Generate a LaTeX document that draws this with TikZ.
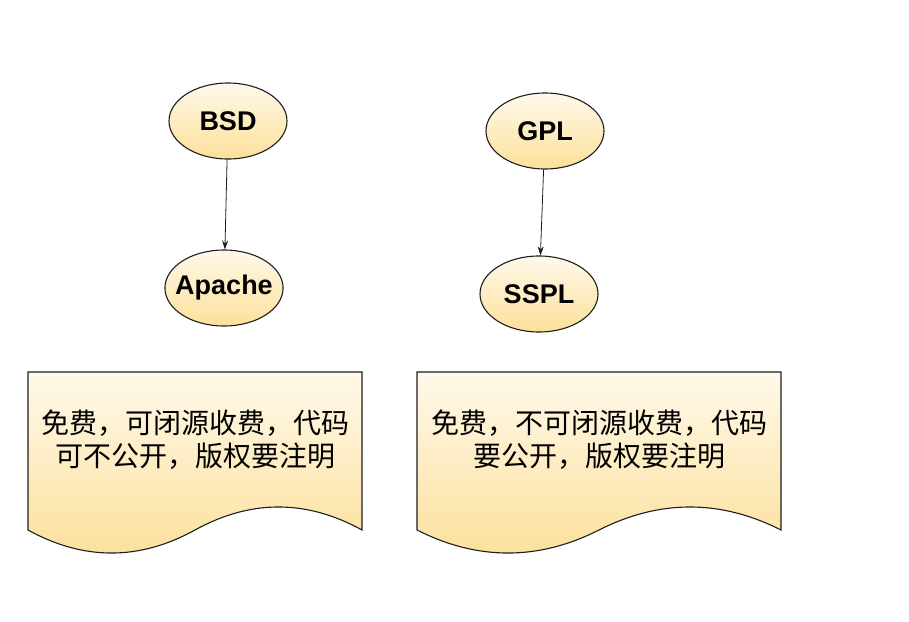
\documentclass[tikz,border=0pt]{standalone}
\usepackage{fontspec}
\setmainfont{Liberation Sans}
\newfontfamily\cjk{Noto Sans CJK SC}
\usetikzlibrary{shapes.geometric,arrows.meta}
\definecolor{licTop}{HTML}{FFF9EA}
\definecolor{licBot}{HTML}{FCE09A}
\definecolor{licLine}{HTML}{1E1E1E}
% document outline with a wavy bottom, #1 = left edge, #2 = width
\newcommand{\licDoc}[2]{%
  \begin{scope}[shift={(#1,372)}, x=#2pt]
    \path[draw=licLine, line width=1.1pt, top color=licTop, bottom color=licBot]
      (0,0) -- (1,0) -- (1,158)
      .. controls (0.8333,127.3) and (0.6667,127.3) .. (0.5,158)
      .. controls (0.3333,188.7) and (0.1667,188.7) .. (0,158) -- cycle;
  \end{scope}}

\begin{document}
\begin{tikzpicture}[x=1pt,y=-1pt,
  lic/.style={ellipse, draw=licLine, line width=1.1pt, top color=licTop, bottom color=licBot,
    minimum width=118pt, minimum height=76pt, inner sep=-7pt,
    font=\bfseries\fontsize{27}{31}\selectfont},
  note/.style={align=center, inner sep=0pt, font=\cjk\fontsize{28}{33}\selectfont},
  flow/.style={draw=licLine, line width=0.8pt, -{Stealth[length=9pt,width=6pt]}}]
\useasboundingbox (0,0) rectangle (909,621);
\node[lic] (bsd) at (228,121) {BSD};
\node[lic] (apache) at (224,288) {Apache};
\node[lic] (gpl) at (545,131) {GPL};
\node[lic] (sspl) at (539,294) {SSPL};
\draw[flow] (bsd) -- (apache);
\draw[flow] (gpl) -- (sspl);
\licDoc{28}{334}
\licDoc{417}{364}
\node[note] (bsdnote) at (195,440) {免费，可闭源收费，代码\\可不公开，版权要注明};
\node[note] (gplnote) at (599,440) {免费，不可闭源收费，代码\\要公开，版权要注明};
\end{tikzpicture}
\end{document}
